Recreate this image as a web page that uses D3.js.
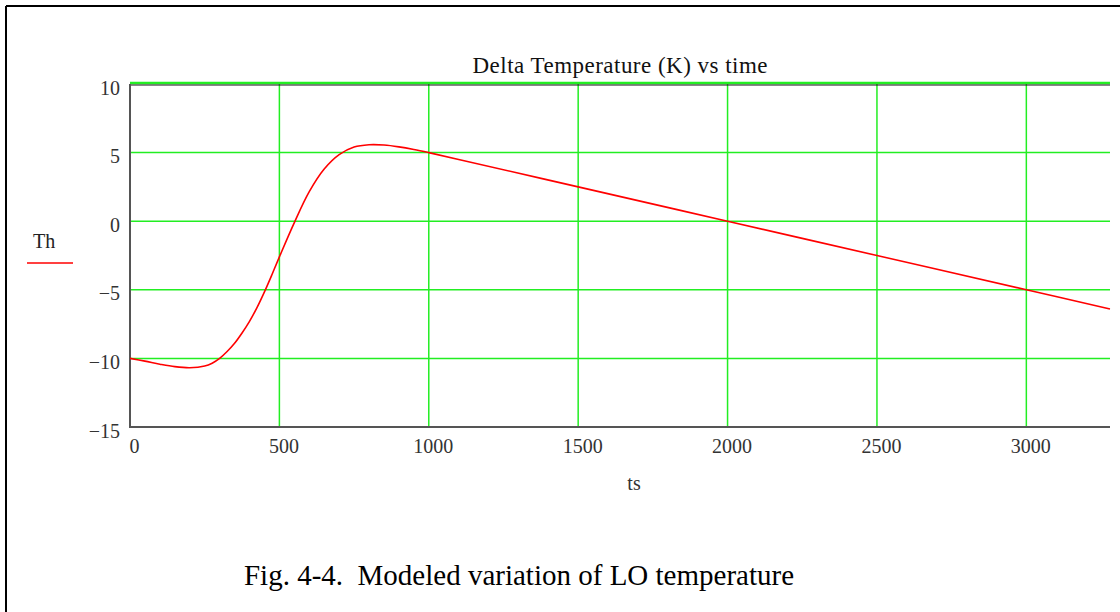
<!DOCTYPE html>
<html>
<head>
<meta charset="utf-8">
<script src="https://cdn.jsdelivr.net/npm/d3@7"></script>
<style>
  html, body { margin: 0; padding: 0; background: #fff; }
  svg { display: block; }
  text { font-family: "Liberation Serif", "Times New Roman", serif; }
</style>
</head>
<body>
<svg id="chart" width="1120" height="612"></svg>
<script>
// ---- data ----
const ts = [0, 50, 100, 150, 200, 250, 275, 300, 325, 350, 375, 400, 425, 450, 475, 500, 550, 600, 650, 700, 750, 800, 850, 900, 950, 1000, 1100, 1500, 2000, 2500, 3000, 3280];
const Th = [-10, -10.2, -10.42, -10.6, -10.68, -10.56, -10.35, -10.0, -9.5, -8.9, -8.15, -7.3, -6.3, -5.15, -3.9, -2.6, -0.1, 2.15, 3.8, 4.85, 5.4, 5.57, 5.55, 5.42, 5.23, 5.0, 4.5, 2.5, 0, -2.5, -5, -6.4];
const xTicks = [0, 500, 1000, 1500, 2000, 2500, 3000];
const yTicks = [-15, -10, -5, 0, 5, 10];
const xDomain = [0, 3280];
const yDomain = [-15, 10];
const titleText = "Delta Temperature (K) vs time";
const xLabel = "ts";
const legendLabel = "Th";
const captionText = "Fig. 4-4.  Modeled variation of LO temperature";

const svg = d3.select("#chart");
const L = 130, R = 1110, T = 84, B = 427;
const x = d3.scaleLinear().domain(xDomain).range([L, R]);
const y = d3.scaleLinear().domain(yDomain).range([B, T]);

// outer frame (top and left)
svg.append("line").attr("x1", 6).attr("x2", 1120).attr("y1", 6).attr("y2", 6)
  .attr("stroke", "#000").attr("stroke-width", 2);
svg.append("line").attr("x1", 6).attr("x2", 6).attr("y1", 6).attr("y2", 612)
  .attr("stroke", "#000").attr("stroke-width", 2);

const green = "#22ee22";
// grid
svg.append("g").selectAll("line").data(yTicks.filter(d => d > yDomain[0])).join("line")
  .attr("x1", L).attr("x2", R)
  .attr("y1", d => d === 10 ? y(d) - 1 : y(d)).attr("y2", d => d === 10 ? y(d) - 1 : y(d))
  .attr("stroke", green).attr("stroke-width", d => d === 10 ? 2.5 : 1.5);
svg.append("g").selectAll("line").data(xTicks.filter(d => d > 0)).join("line")
  .attr("x1", d => x(d)).attr("x2", d => x(d)).attr("y1", T).attr("y2", B)
  .attr("stroke", green).attr("stroke-width", 1.5);
// black top line
svg.append("line").attr("x1", L).attr("x2", R).attr("y1", T + 1).attr("y2", T + 1)
  .attr("stroke", "#111").attr("stroke-width", 1);

// axes
const yAxis = d3.axisLeft(y).tickValues(yTicks).tickSize(0).tickPadding(10)
  .tickFormat(d => d < 0 ? "\u2212" + Math.abs(d) : String(d));
const gy = svg.append("g").attr("transform", `translate(${L},0)`).call(yAxis);
gy.select(".domain").remove();
gy.selectAll("text").attr("font-family", "Liberation Serif, serif").attr("font-size", 20)
  .attr("fill", "#333").attr("dy", "0.5em");

const xAxis = d3.axisBottom(x).tickValues(xTicks).tickSize(0).tickPadding(12).tickFormat(d => String(d));
const gx = svg.append("g").attr("transform", `translate(0,${B})`).call(xAxis);
gx.select(".domain").remove();
gx.selectAll("text").attr("font-family", "Liberation Serif, serif").attr("font-size", 20)
  .attr("fill", "#333").attr("dx", 4);

svg.append("line").attr("x1", L).attr("x2", L).attr("y1", T).attr("y2", B + 1)
  .attr("stroke", "#555").attr("stroke-width", 2);
svg.append("line").attr("x1", L).attr("x2", R).attr("y1", B).attr("y2", B)
  .attr("stroke", "#555").attr("stroke-width", 2);

// series
const pts = ts.map((t, i) => [t, Th[i]]);
const line = d3.line().x(d => x(d[0])).y(d => y(d[1])).curve(d3.curveCatmullRom.alpha(0.5));
svg.append("path").datum(pts).attr("d", line)
  .attr("fill", "none").attr("stroke", "#ff0000").attr("stroke-width", 1.6);

// title
svg.append("text").attr("x", 620).attr("y", 73).attr("text-anchor", "middle")
  .attr("font-size", 23).attr("fill", "#111").attr("textLength", 295)
  .text(titleText);

// x label
svg.append("text").attr("x", 634).attr("y", 490).attr("text-anchor", "middle")
  .attr("font-size", 20).attr("fill", "#333").text(xLabel);

// legend
svg.append("text").attr("x", 33).attr("y", 248).attr("font-size", 20).attr("fill", "#222").text(legendLabel);
svg.append("line").attr("x1", 27).attr("x2", 73).attr("y1", 263).attr("y2", 263)
  .attr("stroke", "#ff0000").attr("stroke-width", 1.5);

// caption
svg.append("text").attr("x", 519).attr("y", 585).attr("text-anchor", "middle")
  .attr("font-size", 29).attr("fill", "#000").style("white-space", "pre")
  .text(captionText);
</script>
</body>
</html>
